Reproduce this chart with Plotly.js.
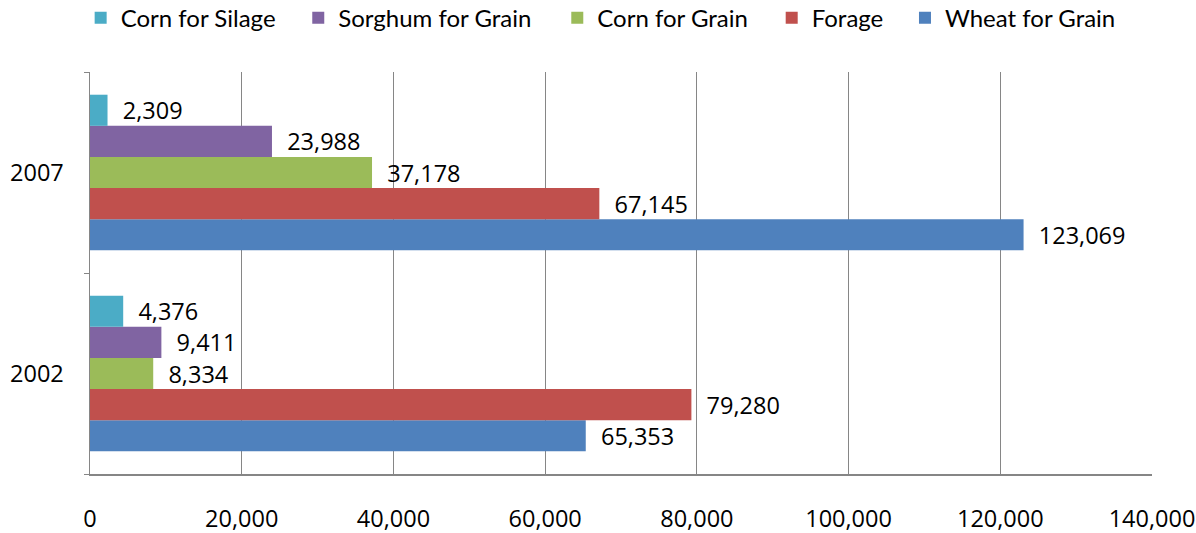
<!DOCTYPE html>
<html>
<head>
<meta charset="utf-8">
<script src="https://cdn.plot.ly/plotly-3.0.1.min.js"></script>
<style>html,body{margin:0;padding:0;background:#fff;}#chart{width:1196px;height:533px;}</style>
</head>
<body>
<div id="chart"></div>
<script>
// Categories (bottom to top)
const years = ["2002", "2007"];

// Series values, in the same order as years
const wheatForGrain   = [65353, 123069];
const forage          = [79280, 67145];
const cornForGrain    = [8334, 37178];
const sorghumForGrain = [9411, 23988];
const cornForSilage   = [4376, 2309];

// Axis ticks
const xTickValues = [0, 20000, 40000, 60000, 80000, 100000, 120000, 140000];

const seriesNames  = ["Wheat for Grain", "Forage", "Corn for Grain", "Sorghum for Grain", "Corn for Silage"];
const seriesValues = [wheatForGrain, forage, cornForGrain, sorghumForGrain, cornForSilage];
const seriesColors = ["#4f81bd", "#c0504d", "#9bbb59", "#8064a2", "#4bacc6"];

const NUMFONT = "'Open Sans', sans-serif";
const LEGFONT = "Lato, 'Open Sans', sans-serif";
const NFS = 23.5;
const LFS = 24;

// one legend per series so each entry sits where the reference puts it
const legendIds = ["legend5", "legend4", "legend3", "legend2", "legend"];
const legendX   = [0.7674, 0.6419, 0.4400, 0.1961, -0.0088];

const traces = seriesNames.map((name, i) => ({
  type: "bar",
  orientation: "h",
  name: name,
  legend: legendIds[i],
  y: years,
  x: seriesValues[i],
  marker: { color: seriesColors[i], line: { width: 0 } },
  text: seriesValues[i].map(v => v.toLocaleString("en-US")),
  texttemplate: "\u00a0\u00a0%{text}",
  textposition: "outside",
  constraintext: "none",
  cliponaxis: false,
  textfont: { family: NUMFONT, size: NFS, color: "#000" },
  hoverinfo: "skip"
}));

const layout = {
  width: 1196,
  height: 533,
  margin: { l: 90, r: 44, t: 72, b: 59, pad: 0, autoexpand: false },
  paper_bgcolor: "#fff",
  plot_bgcolor: "#fff",
  font: { family: NUMFONT, size: NFS, color: "#000" },
  separators: ".,",
  barmode: "group",
  bargap: 0.226,
  bargroupgap: 0,
  showlegend: true,
  xaxis: {
    range: [0, 140000],
    tickvals: xTickValues,
    tickformat: ",d",
    showgrid: true,
    gridcolor: "#868686",
    gridwidth: 1,
    zeroline: false,
    showline: true,
    linecolor: "#868686",
    linewidth: 1.5,
    ticks: "",
    ticklabelstandoff: 23,
    tickfont: { family: NUMFONT, size: NFS, color: "#000" },
    fixedrange: true
  },
  yaxis: {
    type: "category",
    categoryorder: "array",
    categoryarray: years,
    range: [-0.5, 1.5],
    showgrid: false,
    zeroline: false,
    showline: true,
    linecolor: "#868686",
    linewidth: 1.5,
    ticks: "outside",
    tickson: "boundaries",
    ticklen: 5,
    tickcolor: "#868686",
    ticklabelstandoff: 20,
    tickfont: { family: NUMFONT, size: NFS, color: "#000" },
    fixedrange: true
  }
};

legendIds.forEach((id, i) => {
  layout[id] = {
    orientation: "h",
    x: legendX[i], xanchor: "left",
    y: 1.134, yanchor: "middle",
    bgcolor: "rgba(0,0,0,0)",
    borderwidth: 0,
    font: { family: LEGFONT, size: LFS, color: "#000" },
    itemwidth: 30
  };
});

Plotly.newPlot("chart", traces, layout, { displayModeBar: false, staticPlot: true });
</script>
</body>
</html>
